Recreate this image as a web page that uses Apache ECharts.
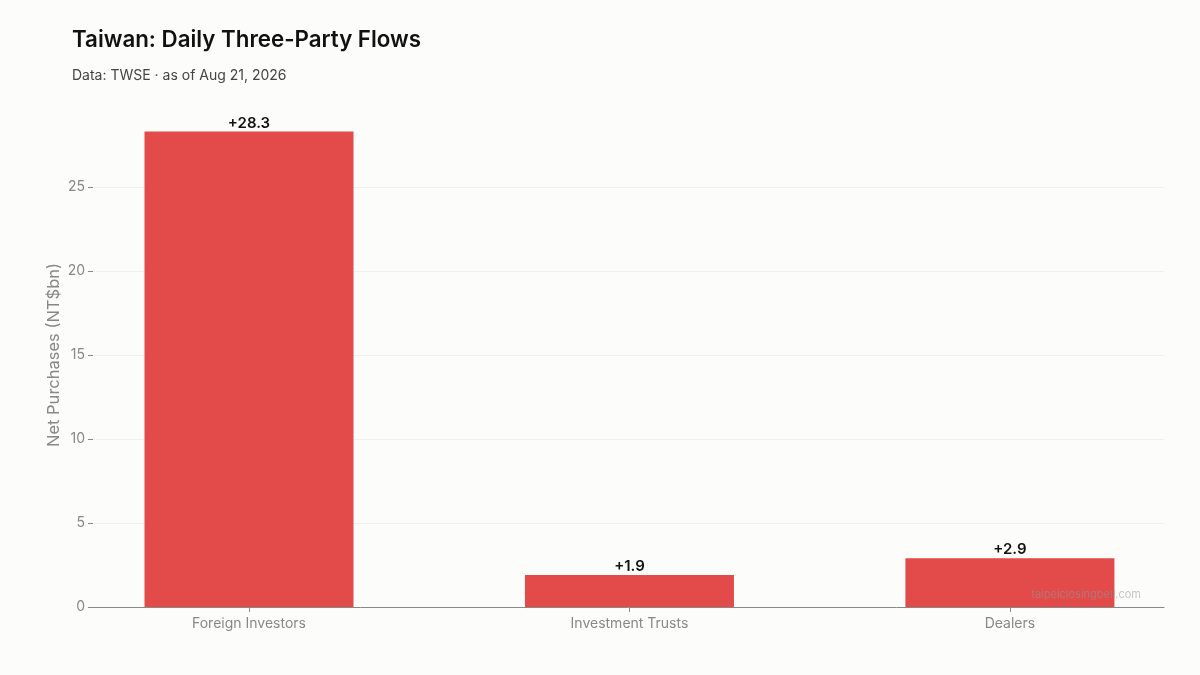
<!DOCTYPE html>
<html>
<head>
<meta charset="utf-8">
<title>Taiwan: Daily Three-Party Flows</title>
<script src="https://cdn.jsdelivr.net/npm/echarts@6/dist/echarts.min.js"></script>
<style>
    html, body { margin: 0; padding: 0; background: #fcfcfa; }
    #chart { width: 1200px; height: 675px; }
</style>
</head>
<body>
<div id="chart"></div>
<script>
var categories = ['Foreign Investors', 'Investment Trusts', 'Dealers'];
var netPurchases = [28.3, 1.9, 2.9];
var yTicks = [0, 5, 10, 15, 20, 25];
var xTicks = [0, 1, 2];

var FONT = 'Inter, "Noto Sans", sans-serif';
var BG = '#fcfcfa';

function initChart() {
    var myChart = echarts.init(document.getElementById('chart'), null, {renderer: 'canvas'});

    var seriesData = [];
    for (var i = 0; i < categories.length; i++) {
        seriesData.push([xTicks[i], netPurchases[i]]);
    }

    var option = {
        backgroundColor: BG,
        animation: false,
        title: [
            {
                text: 'Taiwan: Daily Three-Party Flows',
                left: 67,
                top: 24,
                textStyle: {fontFamily: FONT, fontSize: 22.3, fontWeight: 600, color: '#111'}
            },
            {
                text: 'Data: TWSE \u00b7 as of Aug 21, 2026',
                left: 67,
                top: 64,
                textStyle: {fontFamily: FONT, fontSize: 14, fontWeight: 400, color: '#444'}
            },
            {
                text: 'taipeiclosingbell.com',
                right: 54,
                top: 584,
                textStyle: {fontFamily: FONT, fontSize: 11, fontWeight: 400, color: 'rgba(150,150,150,0.55)'}
            }
        ],
        grid: {left: 93, right: 36, top: 103, bottom: 68},
        xAxis: {
            type: 'value',
            min: -0.41,
            max: 2.405,
            axisLine: {show: true, lineStyle: {color: '#888', width: 1}},
            axisTick: {show: true, customValues: xTicks, length: 5, lineStyle: {color: '#888'}},
            axisLabel: {
                customValues: xTicks,
                color: '#888',
                fontFamily: FONT,
                fontSize: 14,
                margin: 10,
                formatter: function(v) {
                    return categories[Math.round(v)];
                }
            },
            splitLine: {show: false}
        },
        yAxis: {
            type: 'value',
            min: 0,
            max: 30,
            name: 'Net Purchases (NT$bn)',
            nameLocation: 'middle',
            nameGap: 30,
            nameMoveOverlap: false,
            nameTextStyle: {fontFamily: FONT, fontSize: 16.5, color: '#888'},
            // left spine is hidden in the original; draw it in the background colour
            axisLine: {show: true, onZero: false, lineStyle: {color: BG, width: 1}},
            axisTick: {show: true, customValues: yTicks, length: 5, lineStyle: {color: '#888', width: 1}},
            axisLabel: {
                customValues: yTicks,
                color: '#888',
                fontFamily: FONT,
                fontSize: 14,
                margin: 8
            },
            splitLine: {show: true, lineStyle: {color: '#f0f0ee', width: 1}}
        },
        series: [
            {
                type: 'bar',
                data: seriesData,
                barWidth: 209,
                itemStyle: {color: '#e34a4a'},
                label: {
                    show: true,
                    position: 'top',
                    distance: 1,
                    color: '#111',
                    fontFamily: FONT,
                    fontSize: 15,
                    fontWeight: 600,
                    formatter: function(p) {
                        var v = p.value[1];
                        return (v >= 0 ? '+' : '') + v.toFixed(1);
                    }
                }
            }
        ]
    };
    myChart.setOption(option);
}

initChart();
</script>
</body>
</html>
